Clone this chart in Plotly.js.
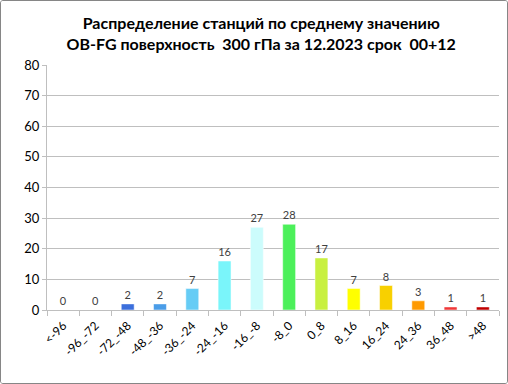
<!DOCTYPE html>
<html><head><meta charset="utf-8">
<script src="https://cdn.plot.ly/plotly-3.0.1.min.js"></script>
<style>
html,body{margin:0;padding:0;background:#fff;}
#wrap{width:508px;height:384px;box-sizing:border-box;border:1px solid #868686;border-radius:3px;overflow:hidden;}
#chart{width:506px;height:382px;}
</style></head>
<body><div id="wrap"><div id="chart"></div></div>
<script>
const categories = ["<-96","-96_-72","-72_-48","-48_-36","-36_-24","-24_-16","-16_-8","-8_0","0_8","8_16","16_24","24_36","36_48",">48"];
const counts = [0,0,2,2,7,16,27,28,17,7,8,3,1,1];
const barColors = ["#3c6fdc","#3c6fdc","#3c6fdc","#4a9de8","#66ccf5","#7af5fa","#ccfcfc","#4cf05a","#c8f040","#ffff00","#f8d000","#ff9a00","#f03838","#c00000"];
const yTicks = [0,10,20,30,40,50,60,70,80];

const font = "Lato, 'Liberation Sans', sans-serif";
Plotly.newPlot("chart", [{
  type: "bar",
  x: categories,
  y: counts,
  text: counts.map(String),
  textposition: "outside",
  cliponaxis: false,
  textfont: {family: font, size: 11, color: "#404040"},
  marker: {color: barColors, line: {color: "rgba(255,255,255,0.5)", width: 1}},
  hoverinfo: "none"
}], {
  width: 506, height: 382,
  margin: {l: 46, r: 8, t: 64, b: 73},
  paper_bgcolor: "#fff", plot_bgcolor: "#fff",
  bargap: 0.6,
  showlegend: false,
  title: {
    text: "<b>Распределение станций по среднему значению<br>OB-FG поверхность  300 гПа за 12.2023 срок  00+12</b>",
    font: {family: font, size: 16, color: "#000"},
    x: 0.474, xref: "paper", xanchor: "center",
    y: 0.926, yref: "container", yanchor: "middle"
  },
  xaxis: {
    type: "category",
    tickangle: -45,
    tickfont: {family: font, size: 12, color: "#000"},
    ticklabelstandoff: 3,
    showline: true, linecolor: "#bfbfbf", linewidth: 1,
    ticks: "outside", tickson: "boundaries", ticklen: 5, tickcolor: "#bfbfbf",
    showgrid: false
  },
  yaxis: {
    range: [0, 80],
    tickvals: yTicks,
    tickfont: {family: font, size: 13, color: "#000"},
    showline: true, linecolor: "#bfbfbf", linewidth: 1,
    ticks: "outside", ticklen: 4, tickcolor: "#bfbfbf",
    showgrid: true, gridcolor: "#bfbfbf", gridwidth: 1,
    zeroline: false
  }
}, {displayModeBar: false, staticPlot: true});
</script></body></html>
